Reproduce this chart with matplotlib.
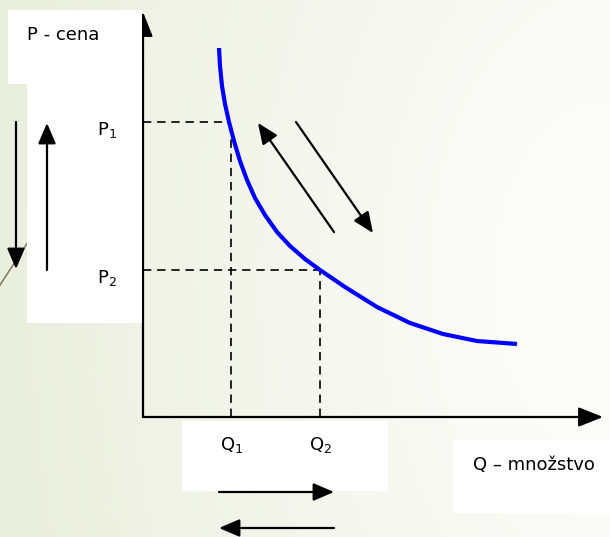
"""Demand curve slide: price vs. quantity with movement arrows."""

import matplotlib
matplotlib.use('Agg')
import matplotlib.pyplot as plt
import numpy as np
from matplotlib.patches import Rectangle

# units: 1 unit = 10 px, origin where the two axes meet
demand_q = [7.6, 7.7, 7.9, 8.2, 8.6, 9.1, 9.7, 10.4, 11.2, 12.2, 13.4, 14.7,
            16.2, 17.7, 20.2, 23.4, 26.7, 30.0, 33.4, 37.4]
demand_p = [36.9, 35.1, 33.1, 31.3, 29.5, 27.6, 25.6, 23.7, 21.9, 20.2, 18.5, 17.1,
            15.8, 14.7, 13.0, 11.0, 9.4, 8.3, 7.6, 7.3]

q_points = [8.8, 17.7]
p_points = [29.5, 14.7]
q_labels = ['Q$_1$', 'Q$_2$']
p_labels = ['P$_1$', 'P$_2$']

y_label = 'P - cena'
x_label = 'Q – množstvo'

# movement arrows (start, end)
curve_arrows = [((19.1, 18.5), (11.5, 29.4)), ((15.3, 29.5), (23.0, 18.4))]
price_arrows = [((-12.7, 29.5), (-12.7, 14.8)), ((-9.6, 14.7), (-9.6, 29.4))]
qty_arrows = [((7.6, -7.5), (19.1, -7.5)), ((19.1, -11.1), (7.6, -11.1))]

# white label panels (x0, y0, w, h)
panels = [(-13.5, 33.3, 13.35, 7.4), (-11.6, 9.4, 11.45, 23.95),
          (3.9, -7.4, 20.6, 7.0), (31.0, -9.6, 15.8, 7.3)]
deco_line = ([-14.3, -11.3], [13.2, 17.8])

fig = plt.figure(figsize=(6.1, 5.37), dpi=100)

# background gradient, greenish on the left fading to white on the right
bg = fig.add_axes([0, 0, 1, 1])
yy, xx = np.mgrid[0:537, 0:610]
t = np.clip(np.hypot(xx - 600, 0.6 * (yy - 280)) / 600.0, 0, 1) ** 1.3
green = np.array([234, 238, 220]) / 255.0
white = np.array([253, 253, 251]) / 255.0
img = white[None, None, :] * (1 - t[..., None]) + green[None, None, :] * t[..., None]
bg.imshow(img, aspect='auto', interpolation='bilinear')
bg.axis('off')

ax = fig.add_axes([0, 0, 1, 1])
ax.patch.set_alpha(0)
ax.set_xlim(-14.3, 46.7)
ax.set_ylim(-12.0, 41.7)
ax.axis('off')

ax.plot(*deco_line, color='#8a7e64', lw=1.2, zorder=1)

for x0, y0, w, h in panels:
    ax.add_patch(Rectangle((x0, y0), w, h, facecolor='white', edgecolor='none', zorder=3))

# axes with arrow heads
axis_style = dict(arrowstyle='-|>,head_length=0.75,head_width=0.3', color='black',
                  lw=1.6, shrinkA=0, shrinkB=0, mutation_scale=20)
ax.annotate('', xy=(0, 40.5), xytext=(0, 0), arrowprops=axis_style, zorder=2)
ax.annotate('', xy=(46.0, 0), xytext=(0, 0), arrowprops=axis_style, zorder=4)

# dashed guides
for q, p in zip(q_points, p_points):
    ax.plot([0, q], [p, p], color='black', lw=1.2, ls=(0, (5, 3.5)), zorder=4)
    ax.plot([q, q], [0, p], color='black', lw=1.2, ls=(0, (5, 3.5)), zorder=4)

ax.plot(demand_q, demand_p, color='#0000ff', lw=3, solid_capstyle='butt',
        solid_joinstyle='round', zorder=5)

small_style = dict(arrowstyle='-|>,head_length=0.7,head_width=0.3', color='black',
                   lw=1.6, shrinkA=0, shrinkB=0, mutation_scale=18)
for start, end in curve_arrows + price_arrows + qty_arrows:
    ax.annotate('', xy=end, xytext=start, arrowprops=small_style, zorder=6)

ax.text(-11.6, 38.2, y_label, fontsize=13, ha='left', va='center', zorder=7)
ax.text(33.0, -4.8, x_label, fontsize=13, ha='left', va='center', zorder=7)
for p, lab in zip(p_points, p_labels):
    ax.text(-4.6, p - 0.8, lab, fontsize=13, ha='left', va='center', zorder=7)
for q, lab in zip(q_points, q_labels):
    ax.text(q + 0.1, -2.8, lab, fontsize=13, ha='center', va='center', zorder=7)

fig.savefig('out.png', dpi=100)
